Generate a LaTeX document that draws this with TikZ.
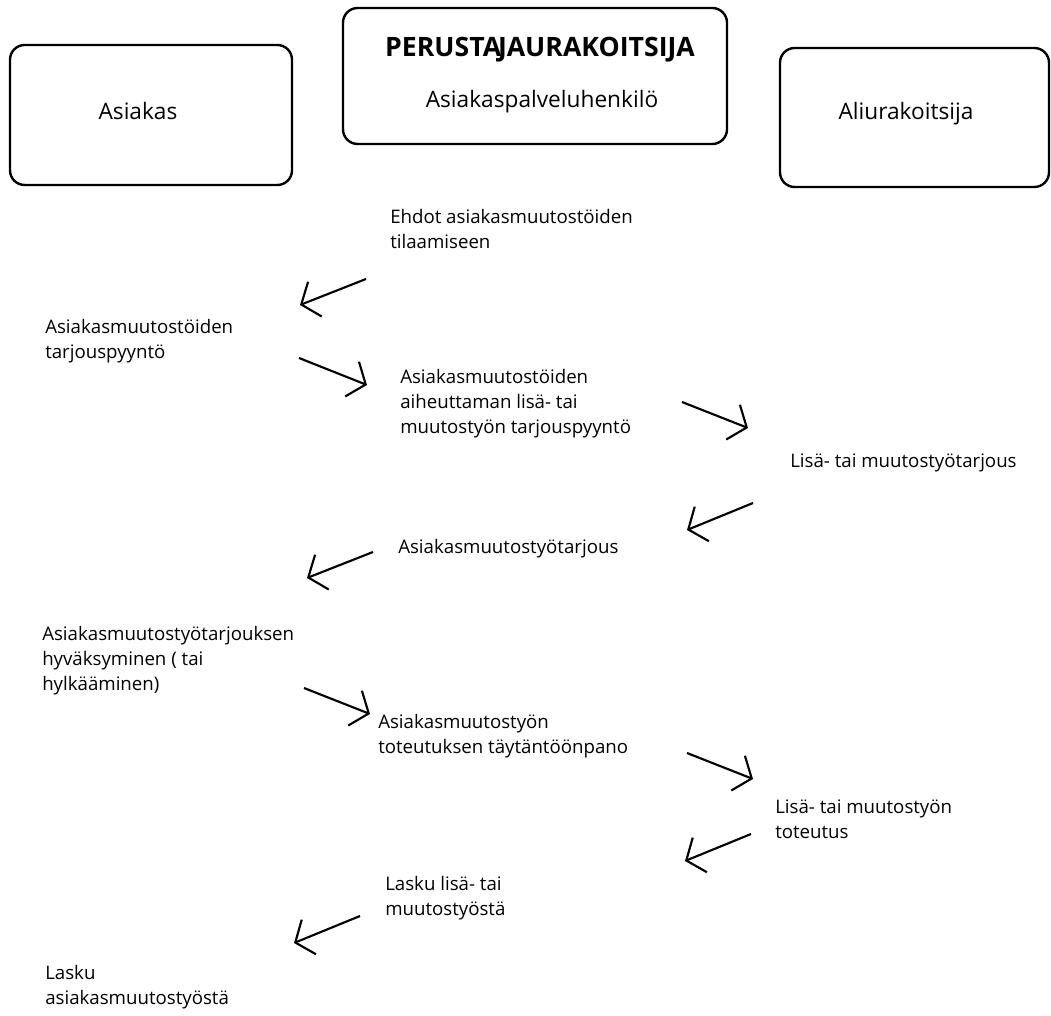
\documentclass[tikz,border=0pt]{standalone}
\usepackage{fontspec}
\setmainfont{Open Sans}
\usetikzlibrary{arrows.meta}

\begin{document}
\begin{tikzpicture}[x=0.75pt,y=-0.75pt,
    party/.style={draw,line width=1.8pt,rounded corners=11pt},
    who/.style={anchor=base,inner sep=0pt,font=\fontsize{17}{20}\selectfont},
    msg/.style={anchor=base west,align=left,inner sep=0pt,font=\fontsize{14}{18.75}\selectfont},
    flow/.style={line width=1.6pt,-{Straight Barb[length=11pt,width=28pt,line width=1.6pt]}}]
    \useasboundingbox (0,0) rectangle (1051,1016);

    % parties
    \node[party,minimum width=211.5pt,minimum height=105pt] (client) at (151,115) {};
    \node[party,minimum width=288pt,minimum height=102pt] (main) at (535,76) {};
    \node[party,minimum width=201.75pt,minimum height=104.25pt] (sub) at (914.5,117.5) {};

    \node[who] (clientname) at (138,120) {Asiakas};
    \node[who,font=\fontsize{20}{23}\selectfont\bfseries] (maintitle) at (540,57) {PERUSTA\kern-2.5pt JAURAKOITSIJA};
    \node[who] (mainname) at (542,108) {Asiakaspalveluhenkilö};
    \node[who] (subname) at (906,120) {Aliurakoitsija};

    % messages (anchored at the baseline of their last line)
    \node[msg] (terms) at (390,249) {Ehdot asiakasmuutostöiden\\tilaamiseen};
    \node[msg] (request) at (45,359) {Asiakasmuutostöiden\\tarjouspyyntö};
    \node[msg] (subrequest) at (400,434) {Asiakasmuutostöiden\\aiheuttaman lisä- tai\\muutostyön tarjouspyyntö};
    \node[msg] (suboffer) at (790,468) {Lisä- tai muutostyötarjous};
    \node[msg] (offer) at (398,554) {Asiakasmuutostyötarjous};
    \node[msg] (accept) at (42,690) {Asiakasmuutostyötarjouksen\\hyväksyminen ( tai\\hylkääminen)};
    \node[msg] (order) at (378,753) {Asiakasmuutostyön\\toteutuksen täytäntöönpano};
    \node[msg] (subwork) at (775,838) {Lisä- tai muutostyön\\toteutus};
    \node[msg] (subbill) at (385,915) {Lasku lisä- tai\\muutostyöstä};
    \node[msg] (bill) at (45,1004) {Lasku\\asiakasmuutostyöstä};

    % arrows
    \coordinate (a1) at (366,279); \coordinate (b1) at (300,305);
    \coordinate (a2) at (299,358); \coordinate (b2) at (367,385);
    \coordinate (a3) at (682,402); \coordinate (b3) at (748,428);
    \coordinate (a4) at (753,503); \coordinate (b4) at (687,530);
    \coordinate (a5) at (373,552); \coordinate (b5) at (307,578);
    \coordinate (a6) at (304,688); \coordinate (b6) at (370,714);
    \coordinate (a7) at (687,753); \coordinate (b7) at (753,779);
    \coordinate (a8) at (751,834); \coordinate (b8) at (685,861);
    \coordinate (a9) at (360,916); \coordinate (b9) at (294,943);
    \foreach \i in {1,...,9}
        \draw[flow] (a\i) -- (b\i);

\end{tikzpicture}
\end{document}
